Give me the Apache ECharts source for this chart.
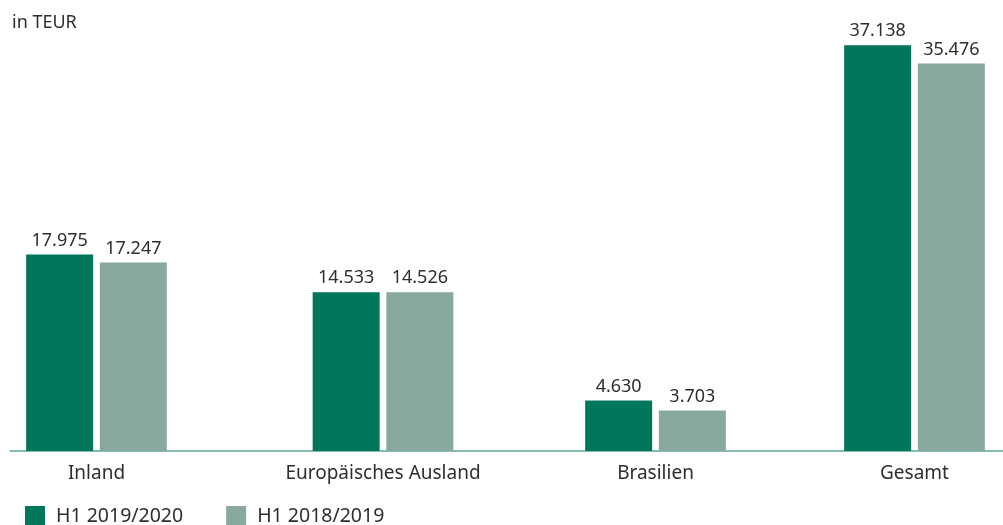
<!DOCTYPE html>
<html>
<head>
<meta charset="utf-8">
<script src="https://cdn.jsdelivr.net/npm/echarts@6/dist/echarts.min.js"></script>
<style>html,body{margin:0;padding:0;background:#fff}#c{width:1003px;height:525px}</style>
</head>
<body>
<div id="c"></div>
<script>
const categories = ['Inland', 'Europäisches Ausland', 'Brasilien', 'Gesamt'];
const seriesNames = ['H1 2019/2020', 'H1 2018/2019'];
const current = [17975, 14533, 4630, 37138];
const previous = [17247, 14526, 3703, 35476];
const unitLabel = 'in TEUR';

const FONT = '"Noto Sans", sans-serif';
const TXT = '#2e2e2e';
const DARK = '#00765a';
const LIGHT = '#88a99c';
const centers = [96.5, 383, 655.5, 914.5];
const GW = 150, TOP = 14, BOTTOM = 74, YMAX = 40000;

function fmt(v) { return String(v).replace(/\B(?=(\d{3})+(?!\d))/g, '.'); }

const grids = [], xAxes = [], yAxes = [], series = [];
categories.forEach((cat, i) => {
  grids.push({ left: centers[i] - GW / 2, width: GW, top: TOP, bottom: BOTTOM });
  xAxes.push({
    type: 'category', gridIndex: i, data: [cat],
    axisLine: { show: false }, axisTick: { show: false },
    axisLabel: { fontFamily: FONT, fontSize: 19, color: TXT, margin: 13, interval: 0 }
  });
  yAxes.push({ type: 'value', gridIndex: i, min: 0, max: YMAX, show: false, splitLine: { show: false } });
  [current, previous].forEach((arr, k) => {
    series.push({
      name: seriesNames[k], type: 'bar', xAxisIndex: i, yAxisIndex: i,
      data: [arr[i]], barWidth: 67, barGap: '10%',
      itemStyle: { color: k === 0 ? DARK : LIGHT },
      label: {
        show: true, position: 'top', distance: 5,
        fontFamily: FONT, fontSize: 18, color: TXT,
        formatter: p => fmt(p.value)
      },
      animation: false
    });
  });
});
// full-width baseline
grids.push({ left: 10, right: 0, top: TOP, bottom: BOTTOM });
xAxes.push({
  type: 'category', gridIndex: 4, data: [],
  axisLine: { show: true, lineStyle: { color: '#5ea797', width: 1.5 } },
  axisTick: { show: false }, axisLabel: { show: false }
});
yAxes.push({ type: 'value', gridIndex: 4, show: false, min: 0, max: YMAX, splitLine: { show: false } });

const chart = echarts.init(document.getElementById('c'), null, { renderer: 'canvas' });
chart.setOption({
  animation: false,
  title: { text: unitLabel, left: 7, top: 9, textStyle: { fontFamily: FONT, fontSize: 18, fontWeight: 'normal', color: TXT } },
  legend: {
    data: seriesNames, left: 20, top: 501, icon: 'rect',
    itemWidth: 20, itemHeight: 20, itemGap: 43,
    textStyle: { fontFamily: FONT, fontSize: 19.5, color: TXT, padding: [0, 0, 0, 6] }
  },
  grid: grids, xAxis: xAxes, yAxis: yAxes, series: series
});
</script>
</body>
</html>
